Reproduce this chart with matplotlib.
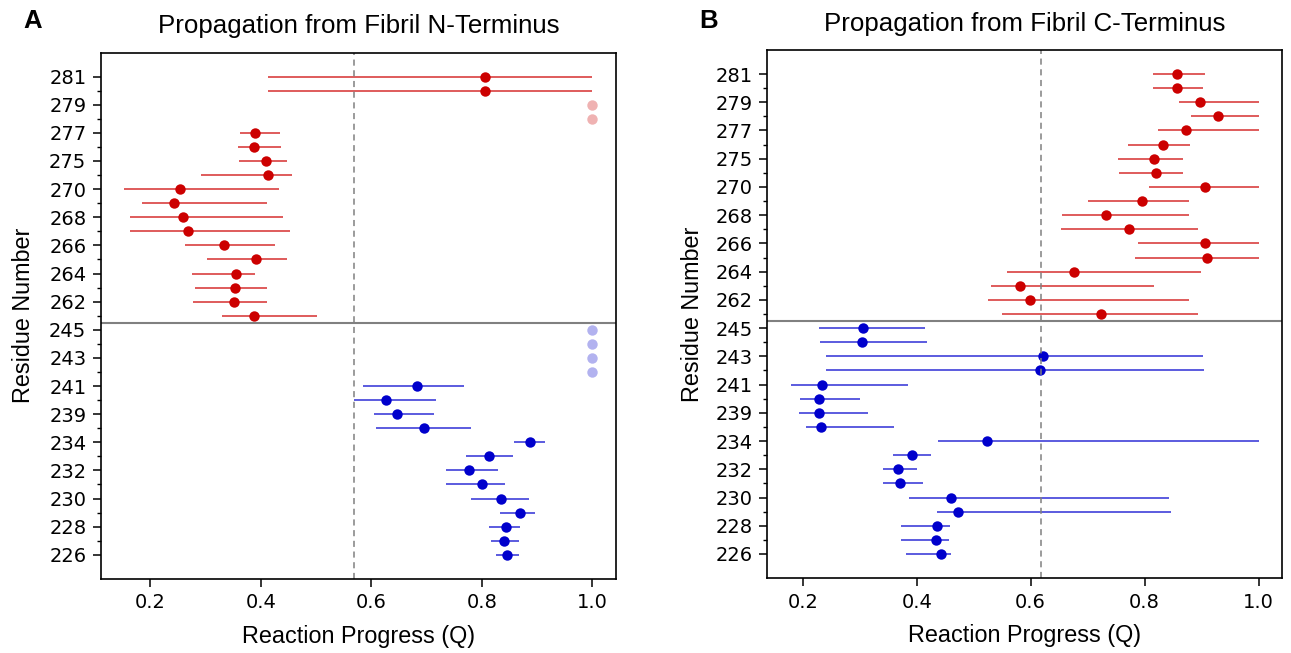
import numpy as np
import matplotlib
matplotlib.use('agg')
import matplotlib.pyplot as plt

nan = np.nan

# residue for each row, bottom (index 0) to top
residues = [226, 227, 228, 229, 230, 231, 232, 233, 234, 238, 239, 240, 241,
            242, 243, 244, 245, 261, 262, 263, 264, 265, 266, 267, 268, 269,
            270, 273, 275, 276, 277, 278, 279, 280, 281]
n_blue = 17  # first 17 rows are the blue (lower) segment

# Panel A: propagation from fibril N-terminus
q_A = [0.846, 0.840, 0.844, 0.869, 0.835, 0.801, 0.777, 0.813, 0.888, 0.695,
       0.647, 0.626, 0.683, 1.0, 1.0, 1.0, 1.0, 0.387, 0.351, 0.353, 0.355,
       0.391, 0.333, 0.268, 0.259, 0.242, 0.253, 0.413, 0.410, 0.388, 0.390,
       1.0, 1.0, 0.806, 0.806]
lo_A = [0.826, 0.817, 0.814, 0.833, 0.781, 0.736, 0.736, 0.771, 0.859, 0.608,
        0.605, 0.569, 0.586, nan, nan, nan, nan, 0.329, 0.277, 0.281, 0.275,
        0.302, 0.262, 0.164, 0.164, 0.185, 0.153, 0.291, 0.361, 0.359, 0.362,
        nan, nan, 0.413, 0.413]
hi_A = [0.868, 0.868, 0.869, 0.896, 0.885, 0.842, 0.829, 0.857, 0.914, 0.781,
        0.713, 0.718, 0.768, nan, nan, nan, nan, 0.501, 0.411, 0.411, 0.389,
        0.448, 0.425, 0.453, 0.440, 0.411, 0.433, 0.457, 0.448, 0.437, 0.434,
        nan, nan, 1.0, 1.0]
mid_A = 0.568

# Panel B: propagation from fibril C-terminus
q_B = [0.442, 0.434, 0.436, 0.472, 0.461, 0.370, 0.367, 0.391, 0.524, 0.232,
       0.229, 0.229, 0.234, 0.617, 0.621, 0.304, 0.306, 0.724, 0.599, 0.581,
       0.676, 0.910, 0.906, 0.772, 0.733, 0.795, 0.906, 0.820, 0.817, 0.833,
       0.872, 0.928, 0.898, 0.856, 0.856]
lo_B = [0.381, 0.373, 0.373, 0.436, 0.386, 0.341, 0.341, 0.358, 0.437, 0.205,
        0.194, 0.195, 0.179, 0.241, 0.241, 0.231, 0.229, 0.550, 0.525, 0.531,
        0.559, 0.783, 0.789, 0.654, 0.655, 0.700, 0.807, 0.755, 0.754, 0.770,
        0.823, 0.882, 0.860, 0.814, 0.814]
hi_B = [0.460, 0.456, 0.458, 0.847, 0.843, 0.411, 0.401, 0.425, 1.0, 0.361,
        0.314, 0.301, 0.384, 0.904, 0.902, 0.418, 0.415, 0.893, 0.878, 0.816,
        0.899, 1.0, 1.0, 0.894, 0.878, 0.878, 1.0, 0.868, 0.867, 0.879, 1.0,
        1.0, 1.0, 0.902, 0.906]
mid_B = 0.619

RED = '#cc0000'
BLUE = '#0000cc'
SANS = ['Liberation Sans', 'DejaVu Sans']


def draw_panel(ax, q, lo, hi, mid, title, ylabelpad):
    q = np.array(q)
    lo = np.array(lo)
    hi = np.array(hi)
    y = np.arange(len(q))
    for i in range(len(q)):
        col = BLUE if i < n_blue else RED
        if np.isnan(lo[i]):
            # never reached: faded marker at Q = 1
            ax.plot(q[i], y[i], 'o', color=col, alpha=0.3, ms=7.5, mec='none')
        else:
            ax.hlines(y[i], lo[i], hi[i], color=col, lw=1.2, alpha=0.75)
            ax.plot(q[i], y[i], 'o', color=col, ms=7.5, mec='none')
    ax.axvline(mid, color='grey', ls='--', lw=1.1, dashes=(4, 3))
    ax.axhline(n_blue - 0.5, color='grey', lw=1.5)
    ax.set_ylim(-1.7, len(q) - 1 + 1.7)
    ax.set_xticks([0.2, 0.4, 0.6, 0.8, 1.0])
    ax.set_yticks(y[::2], [str(r) for r in residues[::2]])
    ax.set_yticks(y[1::2], minor=True)
    ax.tick_params(labelsize=14, length=5.5, width=1.1, pad=5)
    ax.tick_params(which='minor', length=3, width=1.0)
    for s in ax.spines.values():
        s.set_linewidth(1.2)
    ax.set_xlabel('Reaction Progress (Q)', fontsize=16.8, family=SANS,
                  labelpad=9)
    ax.set_ylabel('Residue Number', fontsize=16.8, family=SANS,
                  labelpad=ylabelpad)
    ax.set_title(title, fontsize=18.6, family=SANS, pad=14)


fig = plt.figure(figsize=(12.91, 6.53), dpi=100)
axA = fig.add_axes([0.0782, 0.1138, 0.3986, 0.8055])
axB = fig.add_axes([0.5944, 0.1149, 0.3986, 0.8085])

draw_panel(axA, q_A, lo_A, hi_A, mid_A, 'Propagation from Fibril N-Terminus', 10)
draw_panel(axB, q_B, lo_B, hi_B, mid_B, 'Propagation from Fibril C-Terminus', 8)

fig.text(23 / 1291, 1 - 21 / 653, 'A', fontsize=18.5, fontweight='bold',
         family=SANS, va='center')
fig.text(699 / 1291, 1 - 21 / 653, 'B', fontsize=18.5, fontweight='bold',
         family=SANS, va='center')

fig.savefig('out.png', dpi=100)
